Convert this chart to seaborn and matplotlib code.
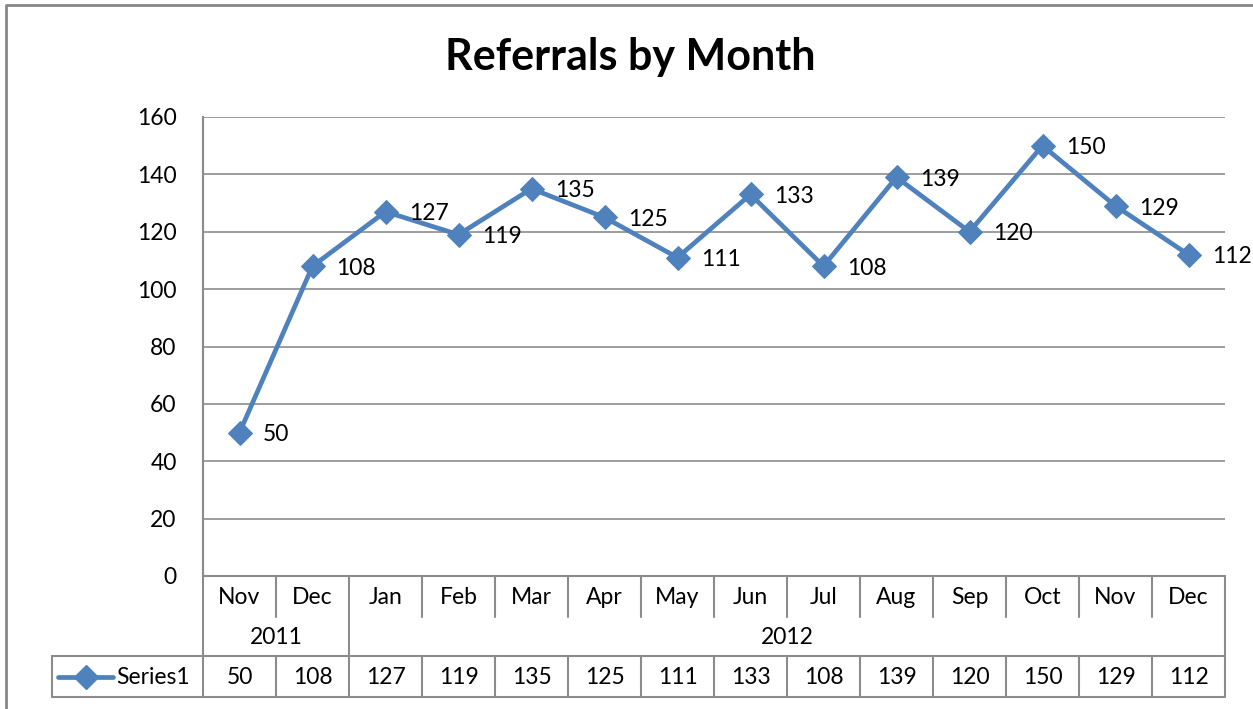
import matplotlib
matplotlib.use("Agg")
import matplotlib.pyplot as plt
from matplotlib.lines import Line2D
import seaborn as sns
import pandas as pd

months = ["Nov", "Dec", "Jan", "Feb", "Mar", "Apr", "May", "Jun", "Jul", "Aug", "Sep", "Oct", "Nov", "Dec"]
years = ["2011", "2011", "2012", "2012", "2012", "2012", "2012", "2012", "2012", "2012", "2012", "2012", "2012", "2012"]
values = [50, 108, 127, 119, 135, 125, 111, 133, 108, 139, 120, 150, 129, 112]
series_name = "Series1"
title = "Referrals by Month"
yticks = [0, 20, 40, 60, 80, 100, 120, 140, 160]

sns.set_theme(style="white")
plt.rcParams["font.family"] = ["Lato", "DejaVu Sans"]
plt.rcParams["text.color"] = "black"
plt.rcParams["ytick.color"] = "black"
plt.rcParams["ytick.labelcolor"] = "black"

W, H = 1253, 709
BLUE = "#4F81BD"
GRID = "#8C8C8C"
FS = 16.5
fig = plt.figure(figsize=(W / 100, H / 100), dpi=100)

def fx(x):
    return x / W

def fy(y):
    return 1 - y / H

L, R, T, B = 203, 1225, 117, 576
ax = fig.add_axes([fx(L), fy(B), fx(R) - fx(L), fy(T) - fy(B)])

df = pd.DataFrame({"pos": range(len(values)), "value": values})
sns.lineplot(data=df, x="pos", y="value", ax=ax, color=BLUE, linewidth=3.4,
             marker="D", markersize=12, markeredgecolor=BLUE, markerfacecolor=BLUE)

ax.set_xlim(-0.5, len(values) - 0.5)
ax.set_ylim(yticks[0], yticks[-1])
ax.set_yticks(yticks)
ax.set_xticks([])
ax.set_xlabel("")
ax.set_ylabel("")
ax.tick_params(axis="y", labelsize=FS, length=0, pad=19, colors="black")
ax.grid(axis="y", color=GRID, linewidth=1.2)
ax.grid(axis="x", visible=False)
for s in ["top", "right", "bottom"]:
    ax.spines[s].set_visible(False)
ax.spines["left"].set_color(GRID)
ax.spines["left"].set_linewidth(1.5)

for i, v in enumerate(values):
    ax.annotate(str(v), (i, v), xytext=(17, -1.5), textcoords="offset points",
                ha="left", va="center", fontsize=FS, color="black")

fig.text(fx(630), fy(57), title, ha="center", va="center", fontsize=31, fontweight="bold", color="black")

# data table
cw = (R - L) / len(values)
r0, r1, r2, r3 = 576, 617, 656, 697
LEG_L = 52

def hline(y, x0, x1):
    fig.add_artist(Line2D([fx(x0), fx(x1)], [fy(y), fy(y)], color=GRID, linewidth=1.5))

def vline(x, y0, y1):
    fig.add_artist(Line2D([fx(x), fx(x)], [fy(y0), fy(y1)], color=GRID, linewidth=1.5))

hline(r0, L, R)
hline(r2, LEG_L, R)
hline(r3, LEG_L, R)
vline(L, T, r3)
vline(R, r0, r3)
vline(LEG_L, r2, r3)
for i in range(1, len(values)):
    x = L + i * cw
    if years[i] != years[i - 1]:
        vline(x, r0, r3)
    else:
        vline(x, r0, r1)
        vline(x, r2, r3)

for i, m in enumerate(months):
    cx = L + (i + 0.5) * cw
    fig.text(fx(cx), fy((r0 + r1) / 2 + 1), m, ha="center", va="center", fontsize=FS)
    fig.text(fx(cx), fy((r2 + r3) / 2 + 1), str(values[i]), ha="center", va="center", fontsize=FS)

# year groups
start = 0
for i in range(1, len(years) + 1):
    if i == len(years) or years[i] != years[start]:
        cx = L + (start + i) / 2 * cw
        fig.text(fx(cx), fy((r1 + r2) / 2 + 1), years[start], ha="center", va="center", fontsize=FS)
        start = i

# legend key in table
ly = (r2 + r3) / 2
fig.add_artist(Line2D([fx(58), fx(113)], [fy(ly), fy(ly)], color=BLUE, linewidth=3.4,
                      solid_capstyle="round"))
fig.add_artist(Line2D([fx(86)], [fy(ly)], color=BLUE, marker="D", markersize=12, linestyle="none"))
fig.text(fx(116), fy(ly + 1), series_name, ha="left", va="center", fontsize=FS)

# outer chart border
fig.add_artist(Line2D([fx(6), fx(6), fx(W + 5)], [fy(H + 5), fy(5), fy(5)], color="#878787", linewidth=2))

fig.savefig("out.png", dpi=100)
